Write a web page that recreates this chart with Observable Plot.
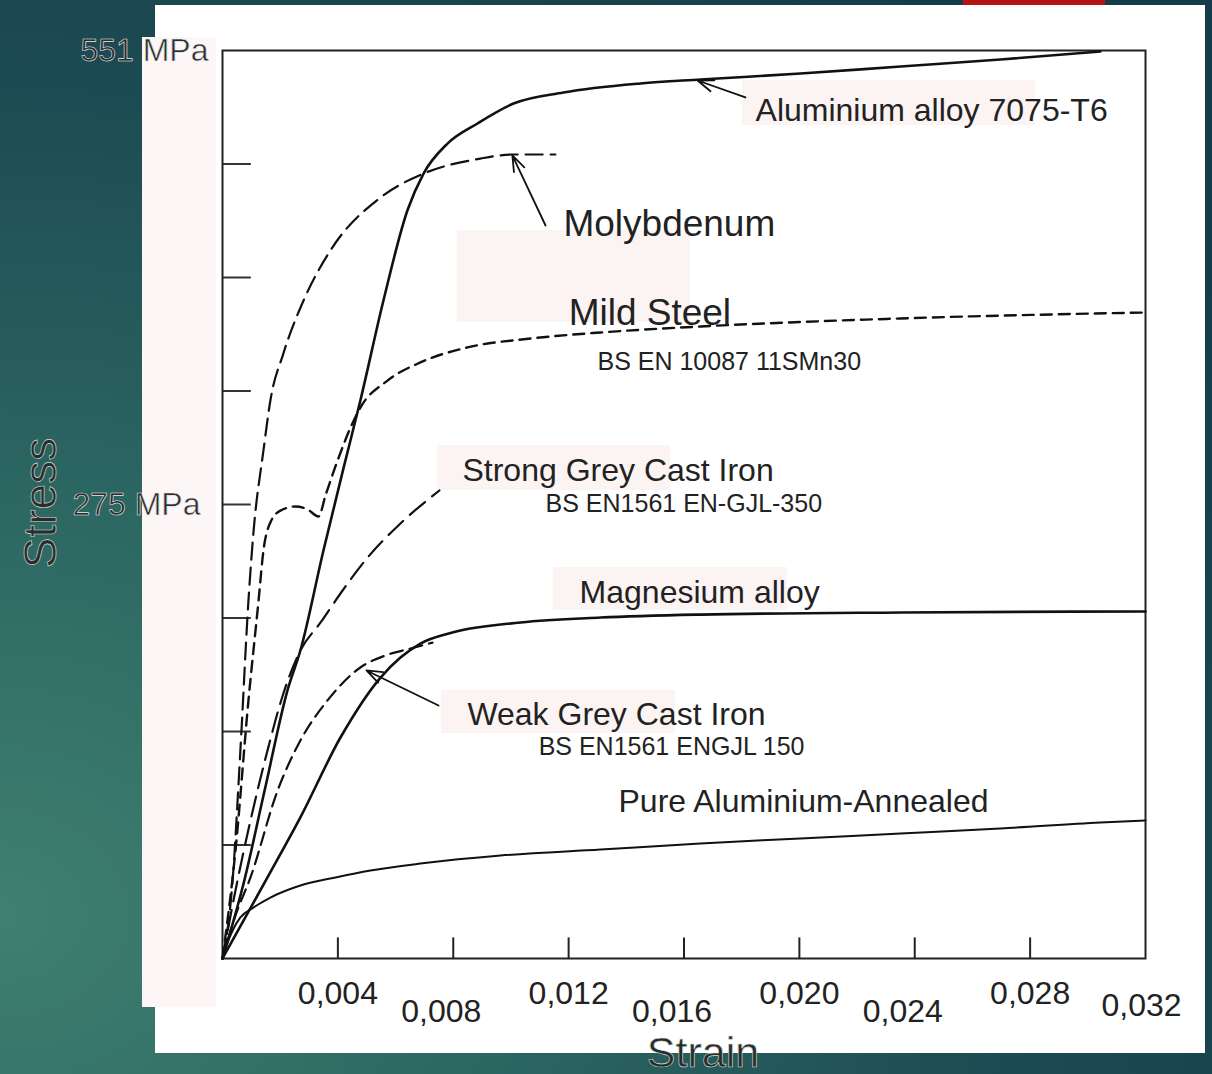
<!DOCTYPE html>
<html><head><meta charset="utf-8">
<script src="https://cdn.jsdelivr.net/npm/d3@7"></script>
<script src="https://cdn.jsdelivr.net/npm/@observablehq/plot@0.6"></script>
<style>
html,body{margin:0;padding:0;}
body{width:1212px;height:1074px;position:relative;overflow:hidden;
 background:radial-gradient(ellipse 120% 110% at 0% 85%, #3f8070 0%, #2c6762 35%, #1d4b53 70%, #143d49 100%);
 font-family:"Liberation Sans",Arial,sans-serif;}
.abs{position:absolute;}
#red{left:963px;top:0;width:142px;height:8px;background:#b31414;}
#panel{left:155px;top:5px;width:1050px;height:1048px;background:#fff;}
#strip{left:142px;top:37px;width:74px;height:970px;background:#fdf6f6;}
.pink{position:absolute;background:#fcf3f3;}
#chart{position:absolute;left:0;top:0;}
.title{position:absolute;color:#2b2b2b;-webkit-text-stroke:0.6px #d8e0de;white-space:nowrap;line-height:1;}
</style></head>
<body>
<div class="abs" id="red"></div>
<div class="abs" id="panel"></div>
<div class="abs" id="strip"></div>
<div class="pink" style="left:742px;top:80px;width:293px;height:45px"></div>
<div class="pink" style="left:457px;top:230px;width:233px;height:92px"></div>
<div class="pink" style="left:437px;top:445px;width:233px;height:45px"></div>
<div class="pink" style="left:553px;top:567px;width:234px;height:43px"></div>
<div class="pink" style="left:441px;top:690px;width:234px;height:43px"></div>
<div id="chart"></div>
<div class="title" id="stressT" style="font-size:46px;left:40px;top:503px;transform:translate(-50%,-50%) rotate(-90deg);">Stress</div>
<div class="title" id="strainT" style="font-size:43px;left:703px;top:1052px;transform:translate(-50%,-50%);">Strain</div>
<script>
// ---- data: [strain, stress (MPa)] ----
const al7075 = [[0,0],[0.00073,45.5],[0.00146,101.9],[0.00225,162.6],[0.00270,186.9],[0.00350,247.6],[0.00420,297.9],[0.00478,338.6],[0.00558,399.3],[0.00641,453.9],[0.00697,476.3],[0.00780,494.5],[0.00884,506.7],[0.01009,518.8],[0.01182,525.5],[0.01449,531.0],[0.01657,533.4],[0.02004,537.0],[0.02351,541.3],[0.02697,545.5],[0.03044,550.4]];
const molybdenum = [[0,0],[0.00035,47.3],[0.00062,126.2],[0.00090,217.2],[0.00107,257.9],[0.00142,308.3],[0.00166,338.6],[0.00211,367.1],[0.00281,399.3],[0.00374,429.6],[0.00548,461.8],[0.00697,476.3],[0.00894,485.4],[0.01009,487.9],[0.01154,487.9]];
const mildSteel = [[0,0],[0.00045,65.5],[0.00090,156.6],[0.00125,217.2],[0.00142,247.6],[0.00166,264.6],[0.00201,271.8],[0.00253,274.3],[0.00295,272.5],[0.00333,268.2],[0.00357,280.9],[0.00399,302.2],[0.00444,322.2],[0.00478,334.3],[0.00572,350.7],[0.00686,361.7],[0.00849,370.8],[0.01068,376.2],[0.01311,379.9],[0.01657,383.5],[0.02351,388.4],[0.03200,392.0]];
const strongCastIron = [[0,0],[0.00045,41.3],[0.00097,83.7],[0.00156,126.2],[0.00211,160.8],[0.00270,186.9],[0.00340,203.9],[0.00409,221.5],[0.00503,243.3],[0.00617,264.0],[0.00752,284.0]];
const magnesium = [[0,0],[0.00156,49.2],[0.00270,85.6],[0.00409,134.1],[0.00548,170.5],[0.00617,182.6],[0.00686,191.1],[0.00797,197.8],[0.01033,203.9],[0.01311,206.9],[0.01657,208.7],[0.02351,210.0],[0.03200,210.6]];
const weakCastIron = [[0,0],[0.00045,26.1],[0.00097,49.2],[0.00191,101.9],[0.00270,132.3],[0.00364,156.6],[0.00478,176.6],[0.00565,183.9],[0.00652,188.1],[0.00728,191.7]];
const pureAluminium = [[0,0],[0.00014,7.9],[0.00035,17.0],[0.00062,24.9],[0.00107,30.9],[0.00166,37.0],[0.00270,44.3],[0.00392,49.2],[0.00513,53.4],[0.00686,57.6],[0.00964,62.5],[0.01311,66.1],[0.01657,69.8],[0.02004,72.8],[0.02351,75.9],[0.02697,78.9],[0.03044,82.5],[0.03200,83.7]];

const xTickValues = [0.004,0.008,0.012,0.016,0.020,0.024,0.028];
const xTickLabelsUpper = [[0.004,"0,004"],[0.012,"0,012"],[0.020,"0,020"],[0.028,"0,028"]];
const xTickLabelsLower = [[0.008,"0,008"],[0.016,"0,016"],[0.024,"0,024"]];
const xTickLabelLast = [[0.032,"0,032"]];
const yTickValues = [1,2,3,4,5,6,7].map(i => i*551/8);
const yTickLabels = [[551,"551 MPa"],[275.5,"275 MPa"]];

const mainLabels = [
  ["Aluminium alloy 7075-T6",0.01848,514.6],
  ["Strong Grey Cast Iron",0.00832,296.1],
  ["Magnesium alloy",0.01238,222.1],
  ["Weak Grey Cast Iron",0.00849,148.0],
  ["Pure Aluminium-Annealed",0.01373,95.3]
];
const bigLabels = [
  ["Molybdenum",0.01182,445.4],
  ["Mild Steel",0.01200,391.4]
];
const subLabels = [
  ["BS EN 10087 11SMn30",0.01300,361.7],
  ["BS EN1561 EN-GJL-350",0.01120,276.1],
  ["BS EN1561 ENGJL 150",0.01096,128.5]
];
const pointers = [
  [0.01813,522.5,0.01647,532.8],
  [0.01120,444.8,0.01005,487.3],
  [0.00749,153.5,0.00499,174.8]
];

const X = d => d[0], Y = d => d[1];
const line = (data, dash, w) => Plot.line(data, {x: X, y: Y, curve: "monotone-x", stroke: "#111", strokeWidth: w, strokeDasharray: dash});

const chart = Plot.plot({
  width: 1212, height: 1074,
  marginLeft: 222, marginRight: 67, marginTop: 50, marginBottom: 116,
  x: {domain: [0, 0.032], axis: null},
  y: {domain: [0, 551], axis: null},
  style: {background: "transparent", overflow: "visible", fontFamily: "'Liberation Sans', Arial, sans-serif"},
  marks: [
    Plot.ruleX(xTickValues, {x: d => d, y1: 0, y2: 12.5, stroke: "#222", strokeWidth: 2}),
    Plot.ruleY(yTickValues, {y: d => d, x1: 0, x2: 0.00100, stroke: "#333", strokeWidth: 2}),
    Plot.frame({stroke: "#222", strokeWidth: 2}),
    line(pureAluminium, null, 2),
    line(magnesium, null, 2.6),
    line(weakCastIron, "13,7", 2.2),
    line(strongCastIron, "20,9", 2.2),
    line(mildSteel, "11,7", 2.4),
    line(molybdenum, "17,8", 2.2),
    line(al7075, null, 2.6),
    Plot.arrow(pointers, {x1: d => d[0], y1: d => d[1], x2: d => d[2], y2: d => d[3], stroke: "#111", strokeWidth: 1.8, headLength: 14, headAngle: 40}),
    Plot.text(mainLabels, {x: d => d[1], y: d => d[2], text: d => d[0], textAnchor: "start", fontSize: 32, fill: "#222"}),
    Plot.text(bigLabels, {x: d => d[1], y: d => d[2], text: d => d[0], textAnchor: "start", fontSize: 37, fill: "#222"}),
    Plot.text(subLabels, {x: d => d[1], y: d => d[2], text: d => d[0], textAnchor: "start", fontSize: 25, fill: "#222"}),
    Plot.text(xTickLabelsUpper, {x: X, y: () => 0, text: Y, dy: 35, fontSize: 32, fill: "#222"}),
    Plot.text(xTickLabelsLower, {x: X, y: () => 0, text: Y, dy: 53, dx: -12, fontSize: 32, fill: "#222"}),
    Plot.text(xTickLabelLast, {x: X, y: () => 0, text: Y, dy: 47, dx: -4, fontSize: 32, fill: "#222"}),
    Plot.text(yTickLabels.slice(0,1), {x: () => 0, y: X, text: Y, textAnchor: "end", dx: -14, fontSize: 32, fill: "#2b2b2b", stroke: "#e6ecea", strokeWidth: 0.6, paintOrder: "normal"}),
    Plot.text(yTickLabels.slice(1), {x: () => 0, y: X, text: Y, textAnchor: "end", dx: -22, fontSize: 32, fill: "#2b2b2b", stroke: "#e6ecea", strokeWidth: 0.6, paintOrder: "normal"})
  ]
});
document.getElementById("chart").appendChild(chart);
</script>
</body></html>
